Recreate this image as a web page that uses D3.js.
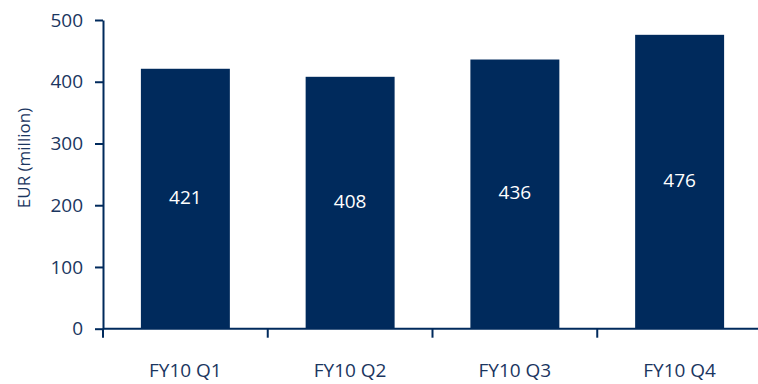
<!DOCTYPE html>
<html>
<head>
<meta charset="utf-8">
<script src="https://cdn.jsdelivr.net/npm/d3@7"></script>
<style>
  html, body { margin: 0; padding: 0; background: #fff; }
  svg { display: block; }
  text { font-family: "Open Sans", "Noto Sans", sans-serif; }
</style>
</head>
<body>
<svg id="chart" width="758" height="384"></svg>
<script>
// Quarterly values, EUR million
const categories = ["FY10 Q1", "FY10 Q2", "FY10 Q3", "FY10 Q4"];
const values = [421, 408, 436, 476];
const yTicks = [0, 100, 200, 300, 400, 500];
const yTitle = "EUR (million)";

const navy = "#002a5c";
const textColor = "#1b365f";

const svg = d3.select("#chart");

const y = d3.scaleLinear().domain([0, 500]).range([328.7, 20]);
const x = d3.scaleBand()
  .domain(categories)
  .range([103, 762])
  .paddingInner(0.46)
  .paddingOuter(0.23);

// Bars
svg.append("g").selectAll("rect")
  .data(values)
  .join("rect")
  .attr("x", (d, i) => x(categories[i]))
  .attr("y", d => y(d))
  .attr("width", x.bandwidth())
  .attr("height", d => y(0) - y(d))
  .attr("fill", navy);

// Value labels centred in each bar
svg.append("g").selectAll("text")
  .data(values)
  .join("text")
  .attr("x", (d, i) => x(categories[i]) + x.bandwidth() / 2)
  .attr("y", d => (y(d) + y(0)) / 2 - 2)
  .attr("text-anchor", "middle")
  .attr("dominant-baseline", "central")
  .attr("fill", "#fff")
  .attr("font-size", 19)
  .text(d => d);

// Y axis
const yAxis = svg.append("g")
  .attr("transform", "translate(103,0)")
  .call(d3.axisLeft(y).tickValues(yTicks).tickSize(8).tickSizeOuter(0).tickPadding(12));
yAxis.select(".domain").attr("stroke", navy).attr("stroke-width", 2);
yAxis.selectAll(".tick line").attr("stroke", navy).attr("stroke-width", 2);
yAxis.selectAll(".tick text")
  .attr("fill", textColor)
  .attr("font-size", 19)
  .style("font-family", "'Open Sans', sans-serif");

// X axis: baseline with ticks at category boundaries
const xAxis = svg.append("g");
xAxis.append("line")
  .attr("x1", 103).attr("x2", 758)
  .attr("y1", y(0)).attr("y2", y(0))
  .attr("stroke", navy).attr("stroke-width", 2);
const bounds = d3.range(categories.length + 1).map(i => x.range()[0] + i * x.step());
xAxis.selectAll("line.bound")
  .data(bounds)
  .join("line")
  .attr("class", "bound")
  .attr("x1", d => d).attr("x2", d => d)
  .attr("y1", y(0)).attr("y2", y(0) + 9)
  .attr("stroke", navy).attr("stroke-width", 2);
xAxis.selectAll("text")
  .data(categories)
  .join("text")
  .attr("x", d => x(d) + x.bandwidth() / 2)
  .attr("y", 377)
  .attr("text-anchor", "middle")
  .attr("fill", textColor)
  .attr("font-size", 19)
  .text(d => d);

// Y axis title
svg.append("text")
  .attr("transform", "translate(30,158) rotate(-90)")
  .attr("text-anchor", "middle")
  .attr("fill", textColor)
  .attr("font-size", 17)
  .text(yTitle);
</script>
</body>
</html>
